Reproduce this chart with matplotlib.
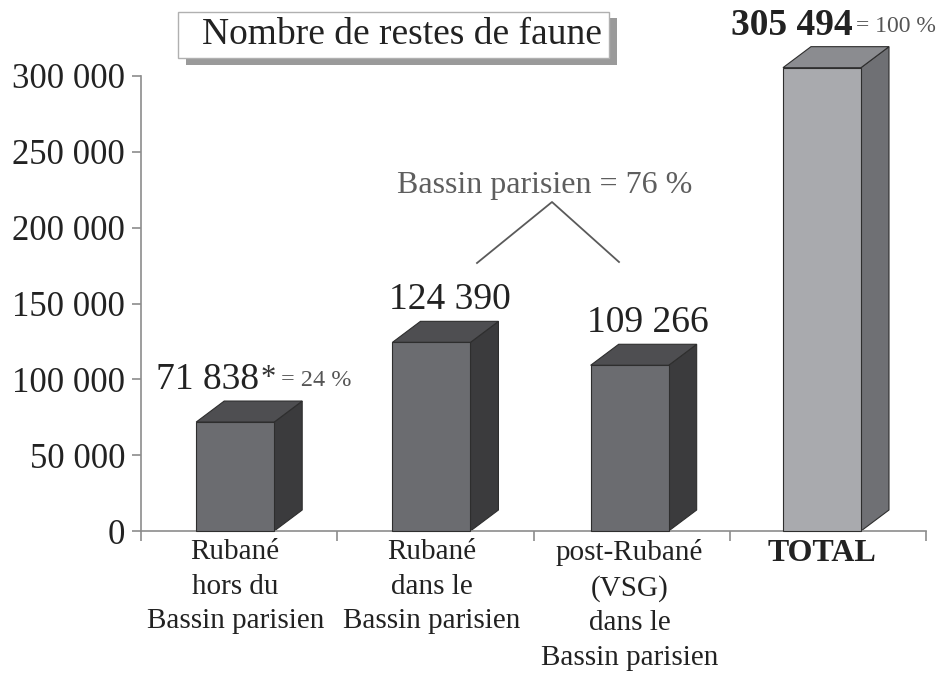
import matplotlib
matplotlib.use("Agg")
import matplotlib.pyplot as plt
from matplotlib.patches import Polygon, Rectangle

plt.rcParams['font.family'] = ['Liberation Serif', 'DejaVu Serif']

# ---- data ----
categories = ["Rubané\nhors du\nBassin parisien",
              "Rubané\ndans le\nBassin parisien",
              "post-Rubané\n(VSG)\ndans le\nBassin parisien",
              "TOTAL"]
values = [71838, 124390, 109266, 305494]
value_labels = ["71 838", "124 390", "109 266", "305 494"]
pct_labels = ["= 24 %", None, None, "= 100 %"]
group_label = "Bassin parisien = 76 %"
title = "Nombre de restes de faune"
yticks = [0, 50000, 100000, 150000, 200000, 250000, 300000]
ytick_labels = ["0", "50 000", "100 000", "150 000", "200 000", "250 000", "300 000"]

# ---- layout ----
W, H, DPI = 939, 675, 100
fig = plt.figure(figsize=(W / DPI, H / DPI), dpi=DPI)
fig.patch.set_facecolor("white")

def fx(px):
    return px / W

def fy(py):
    return 1 - py / H

ax_l, ax_r, ax_t, ax_b = 141, 926, 76, 531
ax = fig.add_axes([fx(ax_l), fy(ax_b), fx(ax_r) - fx(ax_l), fy(ax_t) - fy(ax_b)])
ax.set_xlim(0, 4)
ax.set_ylim(0, 300000)

px_per_x = (ax_r - ax_l) / 4.0
px_per_y = (ax_b - ax_t) / 300000.0

positions = [0.48, 1.48, 2.49, 3.47]
bar_w = 78 / px_per_x
depth_dx = 28 / px_per_x
depth_dy = 21 / px_per_y

front_cols = ["#6b6c70", "#6b6c70", "#6b6c70", "#a9aaae"]
side_cols = ["#3b3b3d", "#3b3b3d", "#3b3b3d", "#6f7074"]
top_cols = ["#4e4e51", "#4e4e51", "#4e4e51", "#8b8c90"]
edge = "#2e2e2e"

for i, (x, v) in enumerate(zip(positions, values)):
    bars = ax.bar(x, v, width=bar_w, color=front_cols[i], edgecolor=edge,
                  linewidth=0.8, zorder=3)
    for b in bars:
        b.set_clip_on(False)
    x0, x1 = x - bar_w / 2, x + bar_w / 2
    side = Polygon([(x1, 0), (x1 + depth_dx, depth_dy), (x1 + depth_dx, v + depth_dy), (x1, v)],
                   closed=True, facecolor=side_cols[i], edgecolor=edge, linewidth=0.8,
                   zorder=2, clip_on=False)
    top = Polygon([(x0, v), (x1, v), (x1 + depth_dx, v + depth_dy), (x0 + depth_dx, v + depth_dy)],
                  closed=True, facecolor=top_cols[i], edgecolor=edge, linewidth=0.8,
                  zorder=2, clip_on=False)
    ax.add_patch(side)
    ax.add_patch(top)

# value labels
off = 12 * 72 / DPI  # points above back top edge
for i, (x, v) in enumerate(zip(positions, values)):
    anchor = (x + depth_dx / 2, v + depth_dy)
    if i == 0:
        ax.annotate(value_labels[i], anchor, xytext=(-93 * 72 / DPI, off), textcoords="offset points",
                    ha="left", va="baseline", fontsize=27, color="#222222", annotation_clip=False)
        ax.annotate("*", anchor, xytext=(19 * 72 / DPI, off + 2.5), textcoords="offset points",
                    ha="center", va="baseline", fontsize=22, color="#333333", annotation_clip=False)
        ax.annotate(pct_labels[i], anchor, xytext=(32 * 72 / DPI, off + 2), textcoords="offset points",
                    ha="left", va="baseline", fontsize=17.5, color="#555555", annotation_clip=False)
    elif i == 3:
        ax.annotate(value_labels[i], anchor, xytext=(17 * 72 / DPI, off), textcoords="offset points",
                    ha="right", va="baseline", fontsize=27, fontweight="bold", color="#222222",
                    annotation_clip=False)
        ax.annotate(pct_labels[i], anchor, xytext=(20 * 72 / DPI, off + 2), textcoords="offset points",
                    ha="left", va="baseline", fontsize=17, color="#555555", annotation_clip=False)
    else:
        ax.annotate(value_labels[i], anchor, xytext=(4 * 72 / DPI, off), textcoords="offset points",
                    ha="center", va="baseline", fontsize=27, color="#222222", annotation_clip=False)

# "Bassin parisien" group annotation
def dx_(px):
    return (px - ax_l) / px_per_x

def dy_(py):
    return (ax_b - py) / px_per_y

ax.text(dx_(545), dy_(193), group_label, ha="center", va="baseline", fontsize=23, color="#5e5e5e")
ax.plot([dx_(477), dx_(552), dx_(619)], [dy_(263), dy_(202), dy_(262)], color="#5a5a5a",
        linewidth=1.3, zorder=4, clip_on=False)

# axes styling
for s in ["top", "right"]:
    ax.spines[s].set_visible(False)
for s in ["left", "bottom"]:
    ax.spines[s].set_color("#8c8c8c")
    ax.spines[s].set_linewidth(1.2)

ax.set_yticks(yticks)
ax.set_yticklabels(ytick_labels)
ax.tick_params(axis="y", direction="out", length=6.5, width=1.2, color="#8c8c8c",
               labelsize=25, labelcolor="#222222", pad=5)

ax.set_xticks([0, 1, 2, 3, 4])
ax.set_xticklabels([])
ax.set_xticks(positions, minor=True)
ax.set_xticklabels(categories, minor=True)
ax.tick_params(axis="x", which="major", direction="out", length=7, width=1.2, color="#8c8c8c")
ax.tick_params(axis="x", which="minor", length=0, labelsize=21, labelcolor="#222222", pad=6)
for lab in ax.get_xticklabels(minor=True):
    lab.set_linespacing(1.42)
    if lab.get_text() == "TOTAL":
        lab.set_fontweight("bold")
        lab.set_fontsize(23)

# title box with shadow
fig.patches.append(Rectangle((fx(186), fy(65)), fx(617) - fx(186), fy(18) - fy(65),
                             transform=fig.transFigure, facecolor="#9a9a9a", edgecolor="none",
                             zorder=0))
fig.patches.append(Rectangle((fx(178), fy(58)), fx(609) - fx(178), fy(12) - fy(58),
                             transform=fig.transFigure, facecolor="white", edgecolor="#b0b0b0",
                             linewidth=1, zorder=1))
fig.text(fx(402), fy(35), title, ha="center", va="center", fontsize=27, color="#222222", zorder=2)

fig.savefig("out.png", dpi=DPI, facecolor="white")
